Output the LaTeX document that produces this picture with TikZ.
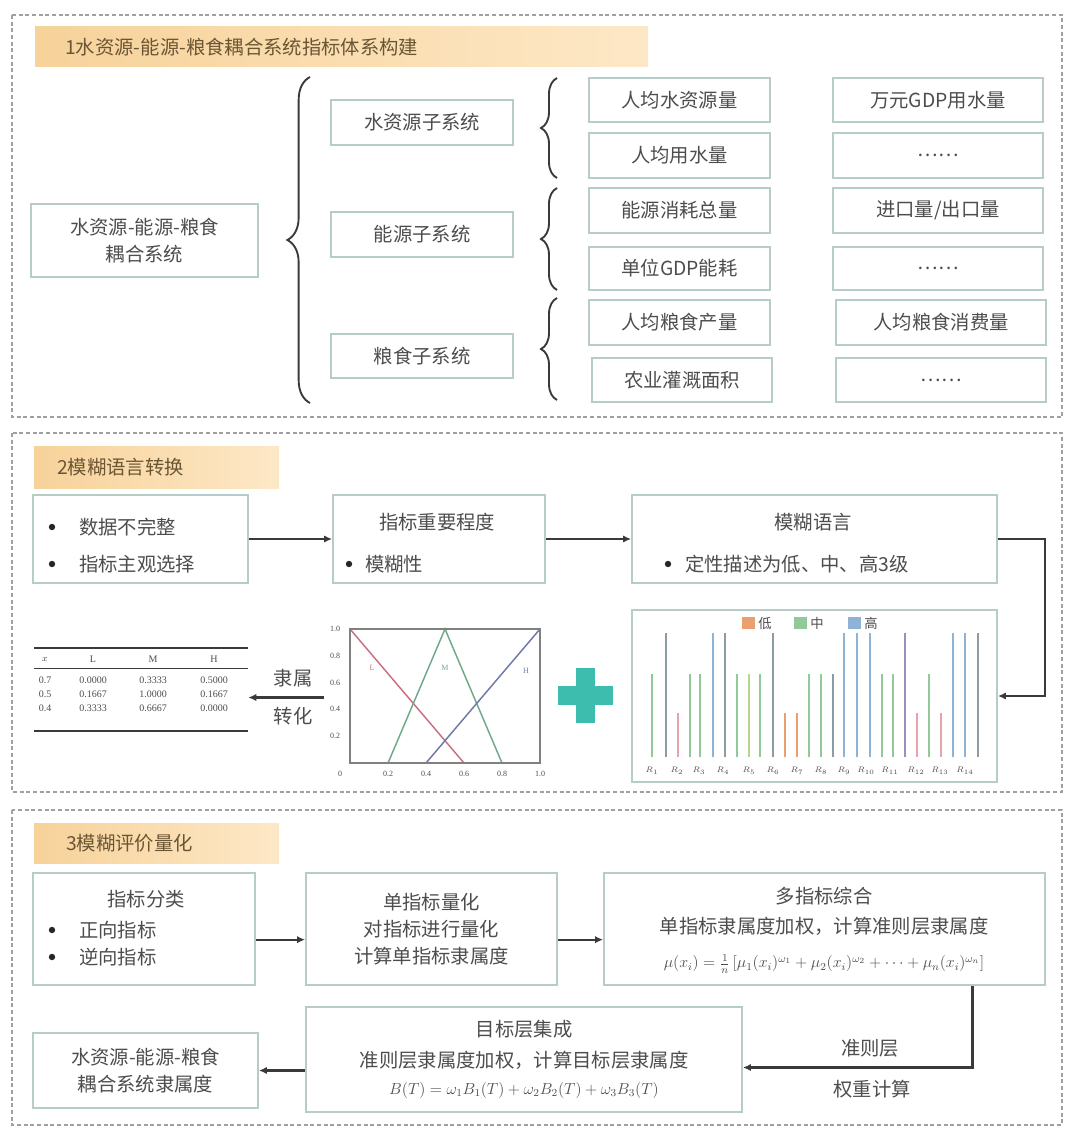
\documentclass[tikz,border=0pt]{standalone}
\usepackage{fontspec}
\setmainfont{Liberation Serif}
\newfontfamily\cjk{Noto Sans CJK SC}
\usetikzlibrary{arrows.meta,decorations.pathreplacing,fit,calc}
\definecolor{textc}{HTML}{4D4D4D}
\definecolor{boxc}{HTML}{B5CCC8}
\definecolor{panelc}{HTML}{A0A0A0}
\definecolor{barl}{HTML}{F7D29A}
\definecolor{barr}{HTML}{FDE8C6}
\definecolor{titlec}{HTML}{6B5634}
\definecolor{linec}{HTML}{3A3A3A}
\definecolor{plusc}{HTML}{3DBDAE}
\definecolor{bgreen}{HTML}{92C99B}
\definecolor{bgray}{HTML}{8C9CA6}
\definecolor{bblue}{HTML}{8FB3D6}
\definecolor{bpink}{HTML}{E6A3AE}
\definecolor{borange}{HTML}{E9A06E}
\definecolor{bpurple}{HTML}{9A8FBF}
\definecolor{bygreen}{HTML}{B7D58C}
\definecolor{lred}{HTML}{C9707F}
\definecolor{lgreen}{HTML}{6FA98A}
\definecolor{lblue}{HTML}{7078A8}
\newcommand{\tbox}[4]{\node[box, fit={#2#3}] (#1) {}; \node[txt, align=center] (#1t) at (#1.center) {#4};}
\begin{document}
\begin{tikzpicture}[x=0.75pt,y=-0.75pt,
  txt/.style={font=\cjk\fontsize{14.5}{20}\selectfont, text=textc, inner sep=0pt},
  small/.style={font=\fontsize{6}{7}\selectfont, text=textc, inner sep=0pt},
  tab/.style={font=\fontsize{7.5}{8}\selectfont, text=textc, inner sep=0pt},
  box/.style={draw=boxc, line width=1.4pt, fill=white, inner sep=0pt},
  ghost/.style={draw=none, inner sep=0pt},
  panel/.style={draw=panelc, line width=0.9pt, dash pattern=on 3pt off 2pt},
  titlebar/.style={left color=barl, right color=barr, draw=none, inner sep=0pt},
  ttext/.style={font=\cjk\fontsize{14.5}{18}\selectfont, text=titlec, inner sep=0pt, anchor=west},
  conn/.style={draw=linec, line width=1.6pt, -{Latex[length=6pt,width=5.5pt]}},
  bigbrace/.style={draw=linec, line width=1.4pt, decorate, decoration={brace, amplitude=17pt}},
  smallbrace/.style={draw=linec, line width=1.4pt, decorate, decoration={brace, amplitude=12pt}},
  bul/.style={circle, fill=black!85, inner sep=1.7pt}
]
\useasboundingbox (0,0) rectangle (1071,1130);
\fill[white] (0,0) rectangle (1071,1130);

% ================= Section 1 =================
\draw[panel] (12,15) rectangle (1062,417);
\node[titlebar, fit={(35,27)(648,67)}] (t1) {};
\node[ttext] (t1x) at (65,47) {1水资源-能源-粮食耦合系统指标体系构建};

\tbox{sys}{(31,204)}{(258,277)}{水资源-能源-粮食\\耦合系统}
\draw[bigbrace] (310,403) -- (310,77);

\tbox{s1}{(331,100)}{(513,145)}{水资源子系统}
\tbox{s2}{(331,212)}{(513,257)}{能源子系统}
\tbox{s3}{(331,334)}{(513,378)}{粮食子系统}

\draw[smallbrace] (557,178) -- (557,78);
\draw[smallbrace] (557,290) -- (557,188);
\draw[smallbrace] (557,400) -- (557,298);

\tbox{a1}{(589,78)}{(770,122)}{人均水资源量}
\tbox{a2}{(589,133)}{(770,178)}{人均用水量}
\tbox{a3}{(589,188)}{(770,233)}{能源消耗总量}
\tbox{a4}{(589,247)}{(770,290)}{单位GDP能耗}
\tbox{a5}{(589,300)}{(770,345)}{人均粮食产量}
\tbox{a6}{(592,358)}{(772,402)}{农业灌溉面积}

\tbox{b1}{(833,78)}{(1043,122)}{万元GDP用水量}
\tbox{b2}{(833,133)}{(1043,178)}{……}
\tbox{b3}{(833,188)}{(1043,233)}{进口量/出口量}
\tbox{b4}{(833,247)}{(1043,290)}{……}
\tbox{b5}{(836,300)}{(1046,345)}{人均粮食消费量}
\tbox{b6}{(836,358)}{(1046,402)}{……}

% ================= Section 2 =================
\draw[panel] (12,433) rectangle (1062,792);
\node[titlebar, fit={(34,446)(279,488)}] (t2) {};
\node[ttext] (t2x) at (57,467) {2模糊语言转换};

\node[box, fit={(33,495)(248,583)}] (A) {};
\node[bul] (Ab1) at (52,527) {};
\node[txt, anchor=west] (At1) at (79,527) {数据不完整};
\node[bul] (Ab2) at (52,564) {};
\node[txt, anchor=west] (At2) at (79,564) {指标主观选择};

\node[box, fit={(333,495)(545,583)}] (B) {};
\node[txt] (Bt) at (437,522) {指标重要程度};
\node[bul] (Bb) at (349,564) {};
\node[txt, anchor=west] (Bt2) at (365,564) {模糊性};

\node[box, fit={(632,495)(997,583)}] (C) {};
\node[txt] (Ct) at (813,522) {模糊语言};
\node[bul] (Cb) at (668,564) {};
\node[txt, anchor=west] (Ct2) at (685,564) {定性描述为低、中、高3级};

\draw[conn] (A) -- (B);
\draw[conn] (B) -- (C);

% bar chart
\node[box, fit={(632,610)(997,782)}] (chart) {};
\foreach \bx/\bt/\bc in {652/674/bgreen,666/633/bgray,678/713/bpink,690/674/bgreen,700/674/bgreen,
  713/633/bblue,725/633/bgray,737/674/bgreen,749/674/bygreen,760/674/bgreen,773/633/bgray,
  785/713/borange,797/713/borange,809/674/bgreen,821/674/bgreen,833/674/bgray,844/633/bblue,
  857/633/bblue,870/633/bblue,882/674/bgreen,893/674/bgreen,905/633/bpurple,917/713/bpink,
  929/674/bgreen,941/713/bpink,953/633/bblue,965/633/bblue,978/633/bgray}
  {\draw[line width=2.2pt, \bc] (\bx,757) -- (\bx,\bt);}
\foreach \lx [count=\i] in {652,677,699,723,749,773,797,821,844,866,890,916,940,965}
  {\node[small] (xl\i) at (\lx,771) {$R_{\i}$};}
\fill[borange] (742,617) rectangle (755,629);
\node[txt, font=\cjk\fontsize{10}{12}\selectfont, anchor=west] (lg1) at (758,623) {低};
\fill[bgreen] (794,617) rectangle (807,629);
\node[txt, font=\cjk\fontsize{10}{12}\selectfont, anchor=west] (lg2) at (810,623) {中};
\fill[bblue] (848,617) rectangle (861,629);
\node[txt, font=\cjk\fontsize{10}{12}\selectfont, anchor=west] (lg3) at (864,623) {高};

\draw[conn] (C.east) -- ++(47,0) |- (chart.east);

% plus sign
\fill[plusc] (558,686) rectangle (613,705);
\fill[plusc] (576,668) rectangle (595,723);

% triangular membership chart
\node[ghost, fit={(324,620)(545,775)}] (tri) {};
\draw[lred, line width=1.1pt] (350,629) -- (464,763);
\draw[lgreen, line width=1.1pt] (388,763) -- (445,629) -- (502,763);
\draw[lblue, line width=1.1pt] (426,763) -- (540,629);
\draw[gray, line width=1pt] (350,629) rectangle (540,763);
\node[small, text=lred] (Ll) at (372,668) {L};
\node[small, text=lgreen] (Ml) at (445,668) {M};
\node[small, text=lblue] (Hl) at (526,671) {H};
\foreach \tx/\tl in {340/0,388/0.2,426/0.4,464/0.6,502/0.8,540/1.0}
  {\node[small] at (\tx,774) {\tl};}
\foreach \ty/\tl in {629/1.0,656/0.8,683/0.6,709/0.4,736/0.2}
  {\node[small] at (335,\ty) {\tl};}

% table
\node[ghost, fit={(34,648)(248,731)}] (tabn) {};
\draw[linec, line width=1pt] (34,648) -- (248,648);
\draw[linec, line width=0.6pt] (34,668) -- (248,668);
\draw[linec, line width=1pt] (34,731) -- (248,731);
\node[tab] at (45,659) {$x$};
\node[tab] at (93,659) {L};
\node[tab] at (153,659) {M};
\node[tab] at (214,659) {H};
\foreach \ry/\a/\b/\c/\d in {680/0.7/0.0000/0.3333/0.5000, 694/0.5/0.1667/1.0000/0.1667, 708/0.4/0.3333/0.6667/0.0000}
  {\node[tab] at (45,\ry) {\a};
   \node[tab] at (93,\ry) {\b};
   \node[tab] at (153,\ry) {\c};
   \node[tab] at (214,\ry) {\d};}
\draw[conn] (tri.west) -- (tri.west -| tabn.east);
\node[txt] (lab1) at (293,678) {隶属};
\node[txt] (lab2) at (293,716) {转化};

% ================= Section 3 =================
\draw[panel] (12,810) rectangle (1062,1125);
\node[titlebar, fit={(34,823)(279,863)}] (t3) {};
\node[ttext] (t3x) at (66,843) {3模糊评价量化};

\node[box, fit={(33,873)(255,985)}] (D) {};
\node[txt] (Dt) at (146,899) {指标分类};
\node[bul] (Db1) at (52,930) {};
\node[txt, anchor=west] (Dt1) at (79,930) {正向指标};
\node[bul] (Db2) at (52,957) {};
\node[txt, anchor=west] (Dt2) at (79,957) {逆向指标};

\tbox{E}{(306,873)}{(557,985)}{单指标量化\\对指标进行量化\\计算单指标隶属度}

\node[box, fit={(604,873)(1045,985)}] (F) {};
\node[txt] (Ft) at (824,896) {多指标综合};
\node[txt] (Ft2) at (824,926) {单指标隶属度加权，计算准则层隶属度};
\node[txt, font=\fontsize{12}{14}\selectfont] (Ff) at (824,964)
  {$\mu(x_i)=\frac{1}{n}\left[\mu_1(x_i)^{\omega_1}+\mu_2(x_i)^{\omega_2}+\cdots+\mu_n(x_i)^{\omega_n}\right]$};

\node[box, fit={(306,1007)(742,1112)}] (G) {};
\node[txt] (Gt) at (524,1029) {目标层集成};
\node[txt] (Gt2) at (524,1060) {准则层隶属度加权，计算目标层隶属度};
\node[txt, font=\fontsize{12}{14}\selectfont] (Gf) at (524,1090)
  {$B(T)=\omega_1 B_1(T)+\omega_2 B_2(T)+\omega_3 B_3(T)$};

\tbox{H}{(33,1033)}{(258,1108)}{水资源-能源-粮食\\耦合系统隶属度}

\draw[conn] ([yshift=-8pt]D.east) -- ([yshift=-8pt]E.west);
\draw[conn] ([yshift=-8pt]E.east) -- ([yshift=-8pt]F.west);
\draw[conn] ([xshift=111pt]F.south) |- ([yshift=-6pt]G.east);
\node[txt] (w1) at (870,1048) {准则层};
\node[txt] (w2) at (872,1089) {权重计算};
\draw[conn] (G.west |- H.east) -- (H.east);
\end{tikzpicture}
\end{document}
